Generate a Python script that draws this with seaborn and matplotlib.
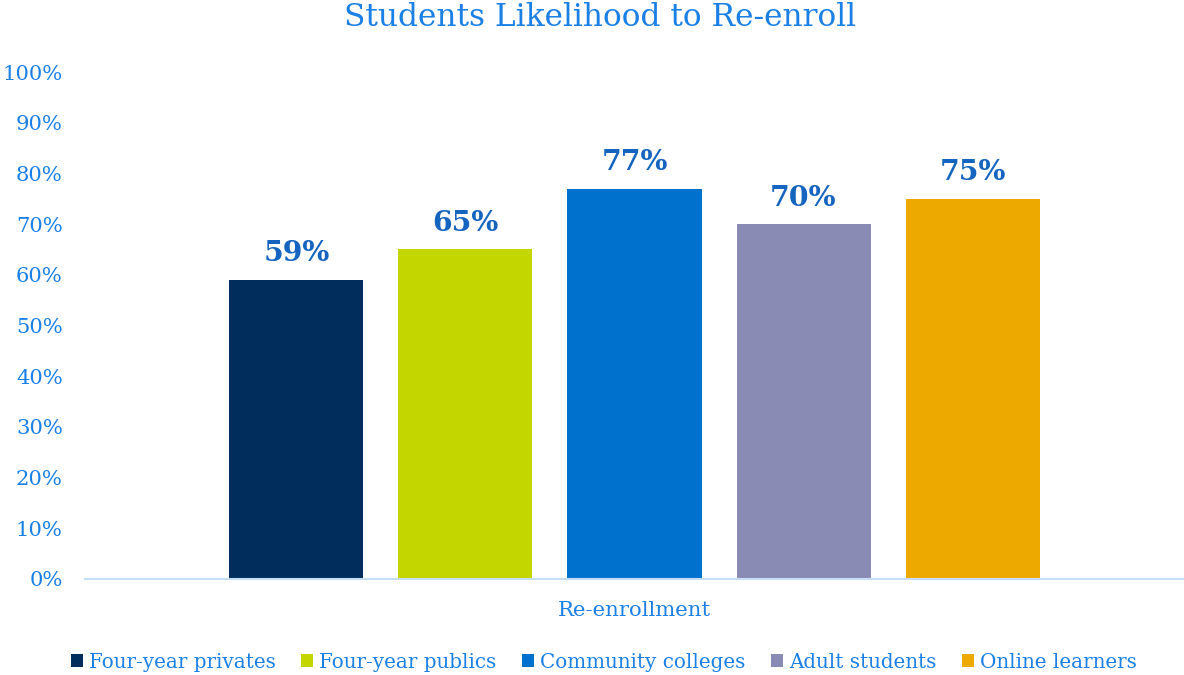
import matplotlib
matplotlib.use("Agg")
import matplotlib.pyplot as plt
import seaborn as sns
import pandas as pd
from matplotlib.ticker import PercentFormatter

categories = ["Four-year privates", "Four-year publics", "Community colleges", "Adult students", "Online learners"]
values = [0.59, 0.65, 0.77, 0.70, 0.75]
group = ["Re-enrollment"] * 5
colors = ["#002D5B", "#C4D600", "#0072CE", "#8A8BB4", "#EDA900"]

df = pd.DataFrame({"group": group, "series": categories, "value": values})

sns.set_theme(style="white")
plt.rcParams["font.family"] = ["DejaVu Serif"]

tick_color = "#1A80E6"
label_color = "#1565C0"

fig = plt.figure(figsize=(11.84, 6.75), dpi=100)
ax = fig.add_axes([85/1184, 1-579/675, 1-85/1184, (579-72)/675])

sns.barplot(data=df, x="group", y="value", hue="series", hue_order=categories,
            palette=colors, width=0.769, gap=0.207, saturation=1, linewidth=0,
            ax=ax, legend=True)

ax.set_ylim(0, 1.0)
ax.set_xlim(-0.5, 0.5)
ax.set_yticks([i/10 for i in range(11)])
ax.yaxis.set_major_formatter(PercentFormatter(1.0, decimals=0))
ax.tick_params(axis="y", colors=tick_color, labelsize=15.2, length=0, pad=16)
ax.tick_params(axis="x", colors=tick_color, labelsize=15.3, length=0, pad=16)
for s in ["top", "right", "left"]:
    ax.spines[s].set_visible(False)
ax.spines["bottom"].set_color("#C5DDF5")
ax.spines["bottom"].set_linewidth(1.5)
ax.set_xlabel("")
ax.set_ylabel("")

for cont in ax.containers:
    ax.bar_label(cont, labels=[f"{v*100:.0f}%" for v in cont.datavalues],
                 padding=9, fontsize=20.4, fontweight="bold", color=label_color)

fig.text(600/1184, 1-17/675, "Students Likelihood to Re-enroll", ha="center", va="center",
         fontsize=22.5, color=tick_color)

handles, labels = ax.get_legend_handles_labels()
ax.legend_.remove()
fig.legend(handles, labels, loc="center", bbox_to_anchor=(604/1184, 1-662/675), ncol=5,
           frameon=False, fontsize=14.3, labelcolor=tick_color, handlelength=0.6, handleheight=0.6,
           handletextpad=0.3, columnspacing=1.3)

fig.savefig("out.png", dpi=100)
